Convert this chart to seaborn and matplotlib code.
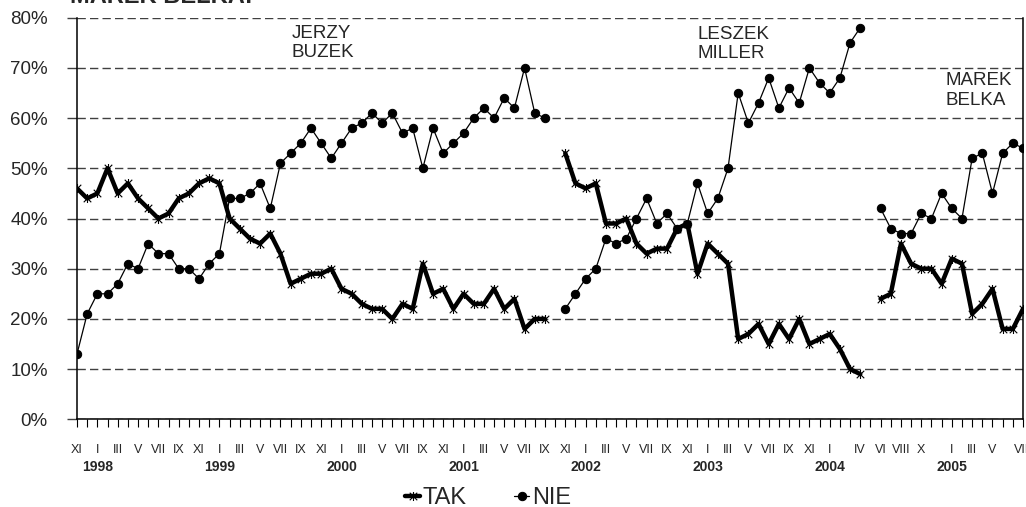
# %%
import numpy as np
import pandas as pd
import matplotlib
matplotlib.use("Agg")
import matplotlib.pyplot as plt
import matplotlib.transforms as mtransforms
from matplotlib.path import Path
from matplotlib.ticker import FuncFormatter
import seaborn as sns

# %%
# poll values, one per category (XI 1997 ... VIII 2005), None = no survey
tak = [46, 44, 45, 50, 45, 47, 44, 42, 40, 41, 44, 45, 47, 48, 47, 40, 38, 36, 35, 37, 33, 27, 28, 29,
       29, 30, 26, 25, 23, 22, 22, 20, 23, 22, 31, 25, 26, 22, 25, 23, 23, 26, 22, 24, 18, 20, 20,
       None,
       53, 47, 46, 47, 39, 39, 40, 35, 33, 34, 34, 38, 39, 29, 35, 33, 31, 16, 17, 19, 15, 19, 16, 20,
       15, 16, 17, 14, 10, 9,
       None,
       24, 25, 35, 31, 30, 30, 27, 32, 31, 21, 23, 26, 18, 18, 22]
nie = [13, 21, 25, 25, 27, 31, 30, 35, 33, 33, 30, 30, 28, 31, 33, 44, 44, 45, 47, 42, 51, 53, 55, 58,
       55, 52, 55, 58, 59, 61, 59, 61, 57, 58, 50, 58, 53, 55, 57, 60, 62, 60, 64, 62, 70, 61, 60,
       None,
       22, 25, 28, 30, 36, 35, 36, 40, 44, 39, 41, 38, 39, 47, 41, 44, 50, 65, 59, 63, 68, 62, 66, 63,
       70, 67, 65, 68, 75, 78,
       None,
       42, 38, 37, 37, 41, 40, 45, 42, 40, 52, 53, 45, 53, 55, 54]

roman = ["I", "II", "III", "IV", "V", "VI", "VII", "VIII", "IX", "X", "XI", "XII"]
labelled = list(range(0, 75, 2)) + [77, 79, 81, 83, 86, 88, 90, 93]
years = ["1998", "1999", "2000", "2001", "2002", "2003", "2004", "2005"]
year_pos = [2, 14, 26, 38, 50, 62, 74, 86]
gov = [("JERZY\nBUZEK", 21.1, 78.6), ("LESZEK\nMILLER", 61.0, 78.4), ("MAREK\nBELKA", 85.4, 69.1)]

# %%
n = len(tak)
idx = np.arange(n)
month_lab = [roman[(10 + i) % 12] if i in labelled else "" for i in idx]
seg = (idx > 47).astype(int) + (idx > 78).astype(int)

df = pd.DataFrame({"i": idx, "seg": seg,
                   "TAK": pd.Series(tak, dtype=float), "NIE": pd.Series(nie, dtype=float)})
df_tak = df.dropna(subset=["TAK"])
df_nie = df.dropna(subset=["NIE"])

sns.set_style("white")
plt.rcParams["font.family"] = ["Liberation Sans", "DejaVu Sans"]

star = Path([(-1, -1), (1, 1), (-1, 1), (1, -1), (0, -1.2), (0, 1.2)],
            [Path.MOVETO, Path.LINETO, Path.MOVETO, Path.LINETO, Path.MOVETO, Path.LINETO])

fig = plt.figure(figsize=(10.26, 5.07), dpi=100)
ax = fig.add_axes([77 / 1026, 1 - 419.3 / 507, 946 / 1026, 401.6 / 507])

sns.lineplot(data=df_tak, x="i", y="TAK", units="seg", estimator=None, ax=ax, color="black",
             lw=3.2, marker=star, markersize=6.5, mew=0.8, mec="black", mfc="none", legend=False)
n_tak = len(ax.lines)
sns.lineplot(data=df_nie, x="i", y="NIE", units="seg", estimator=None, ax=ax, color="black",
             lw=0.9, marker="o", markersize=6, mec="black", mfc="black", legend=False)

ax.set_xlim(0, n - 1)
ax.set_ylim(0, 80)
ax.set_yticks(range(0, 81, 10))
ax.yaxis.set_major_formatter(FuncFormatter(lambda v, p: f"{v:.0f}%"))
ax.set_xticks(idx)
ax.set_xticklabels(month_lab, fontsize=9)
ax.set_xlabel("")
ax.set_ylabel("")

ax.set_axisbelow(True)
ax.yaxis.grid(True, linestyle=(0, (6, 3)), color="#404040", lw=1)
ax.xaxis.grid(False)
ax.spines["top"].set_visible(False)
for s in ["left", "bottom", "right"]:
    ax.spines[s].set_color("black")
    ax.spines[s].set_linewidth(1.1)

ax.tick_params(axis="y", left=True, length=7, width=1, color="#404040", pad=14, labelsize=13.5)
ax.tick_params(axis="x", bottom=True, length=6, width=0.8, color="black", pad=11.5, labelsize=9)

trans = mtransforms.blended_transform_factory(ax.transData, ax.transAxes)
for yr, p in zip(years, year_pos):
    ax.text(p, -0.119, yr, transform=trans, ha="center", va="center", fontsize=10, fontweight="bold")

for txt, x, y in gov:
    ax.text(x, y, txt, ha="left", va="top", fontsize=13.5, linespacing=1.2)

fig.text(70 / 1026, 1 - 3 / 507, "MAREK BELKA:", fontsize=17, fontweight="bold", va="baseline", ha="left")

handles = [ax.lines[0], ax.lines[n_tak]]
fig.legend(handles, ["TAK", "NIE"], loc="center", bbox_to_anchor=(488 / 1026, 1 - 498 / 507),
           ncol=2, frameon=False, fontsize=17, handlelength=0.65, handletextpad=0.1, columnspacing=2.0)

fig.savefig("out.png", dpi=100)
